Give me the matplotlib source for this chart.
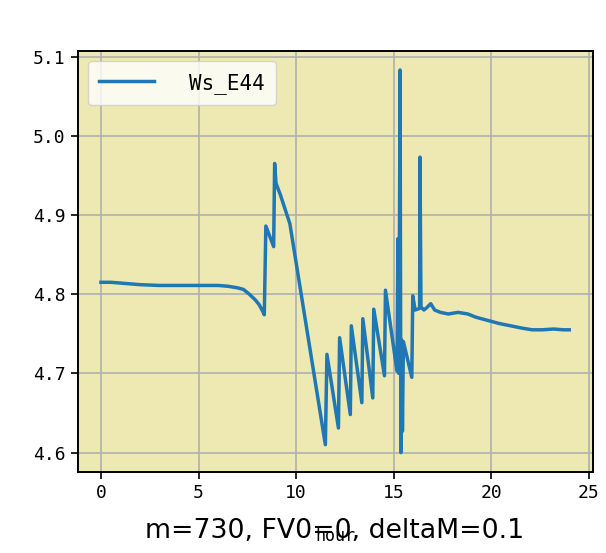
import matplotlib
matplotlib.use("Agg")
import matplotlib.pyplot as plt

# Ws_E44 trace
hours = [0, 0.5, 1, 2, 3, 4, 5, 6, 6.5, 7, 7.3, 7.6, 7.9, 8.1, 8.3, 8.37,
         8.45, 8.85, 8.9, 8.97, 9.2, 9.68, 11.5, 11.58, 12.17, 12.23, 12.78,
         12.83, 13.37, 13.42, 13.93, 13.98, 14.53, 14.58, 15.17, 15.22, 15.27,
         15.33, 15.37, 15.42, 15.45, 15.5, 15.93, 15.98, 16.1, 16.33, 16.35,
         16.4, 16.55, 16.7, 16.9, 17.1, 17.4, 17.8, 18.3, 18.8, 19.2, 19.8,
         20.4, 21, 21.6, 22.1, 22.6, 23.2, 23.7, 24.0]
ws_e44 = [4.815, 4.815, 4.814, 4.812, 4.811, 4.811, 4.811, 4.811, 4.810,
          4.808, 4.806, 4.800, 4.793, 4.787, 4.778, 4.774,
          4.886, 4.860, 4.965, 4.940, 4.925, 4.889, 4.610, 4.724, 4.631,
          4.745, 4.648, 4.760, 4.663, 4.769, 4.669, 4.781, 4.697, 4.805,
          4.703, 4.870, 4.700, 5.083, 4.600, 4.742, 4.627, 4.740, 4.695,
          4.798, 4.780, 4.782, 4.973, 4.784, 4.780, 4.783, 4.788, 4.780,
          4.777, 4.775, 4.777, 4.775, 4.771, 4.767, 4.763, 4.760, 4.757,
          4.755, 4.755, 4.756, 4.755, 4.755]

label = "Ws_E44"
note = "m=730, FV0=0, deltaM=0.1"

plt.rcParams["font.family"] = ["DejaVu Sans Mono"]

fig = plt.figure(figsize=(6.06, 5.53), dpi=100)
ax = fig.add_axes([0.128, 0.147, 0.850, 0.761])
ax.set_facecolor("#eee9b2")

ax.plot(hours, ws_e44, color="tab:blue", linewidth=2.5, label=label)
ax.grid(True, color="#b0b0b0", linewidth=1.2)
ax.set_yticks([4.6, 4.7, 4.8, 4.9, 5.0, 5.1])
ax.set_xticks([0, 5, 10, 15, 20, 25])
ax.tick_params(labelsize=13, length=5, width=1.2)
for s in ax.spines.values():
    s.set_linewidth(1.4)

# xlabel sits underneath the note, like in the original run output
ax.set_xlabel("hour", fontsize=12, labelpad=18.5)
ax.text(0.5, -0.14, note, transform=ax.transAxes, ha="center", va="center",
        fontsize=19.3, family="DejaVu Sans")

leg = ax.legend(loc="upper left", fontsize=15, handlelength=2.6,
                handletextpad=1.7, borderpad=0.55, framealpha=0.8)

fig.savefig("out.png", dpi=100)
